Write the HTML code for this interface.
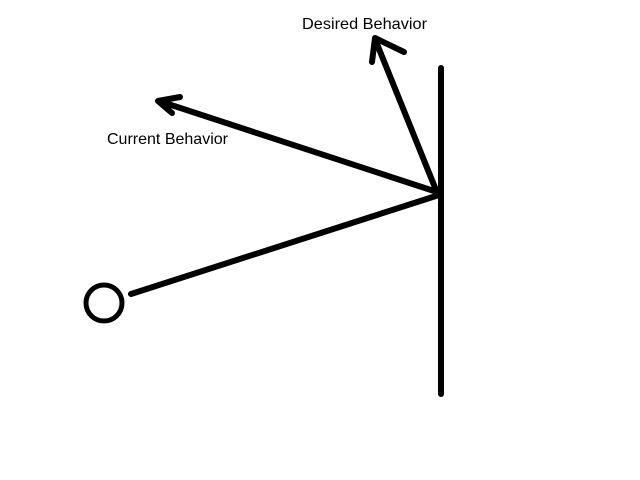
<!DOCTYPE html>
<html><head><style>body{margin:0;background:#fff}svg{display:block}</style></head><body>
<svg width="640" height="480" xmlns="http://www.w3.org/2000/svg">
<g stroke="#000" stroke-width="6" fill="none" stroke-linecap="round" stroke-linejoin="round">
<line x1="441" y1="68" x2="441" y2="394"/>
<line x1="131" y1="294" x2="439" y2="195"/>
<circle cx="104" cy="303" r="18" stroke-width="5"/>
<line x1="437" y1="192" x2="159" y2="101"/>
<polyline points="180,97 158,101 172,113"/>
<line x1="436" y1="190" x2="375" y2="39"/>
<polyline points="372,62 375,38 404,52"/>
</g>
<g font-family="Liberation Sans, sans-serif" font-size="16" fill="#000" textLength="0">
<text x="302" y="29" textLength="125" lengthAdjust="spacingAndGlyphs">Desired Behavior</text>
<text x="107" y="144" textLength="121" lengthAdjust="spacingAndGlyphs">Current Behavior</text>
</g>
</svg>
</body></html>
